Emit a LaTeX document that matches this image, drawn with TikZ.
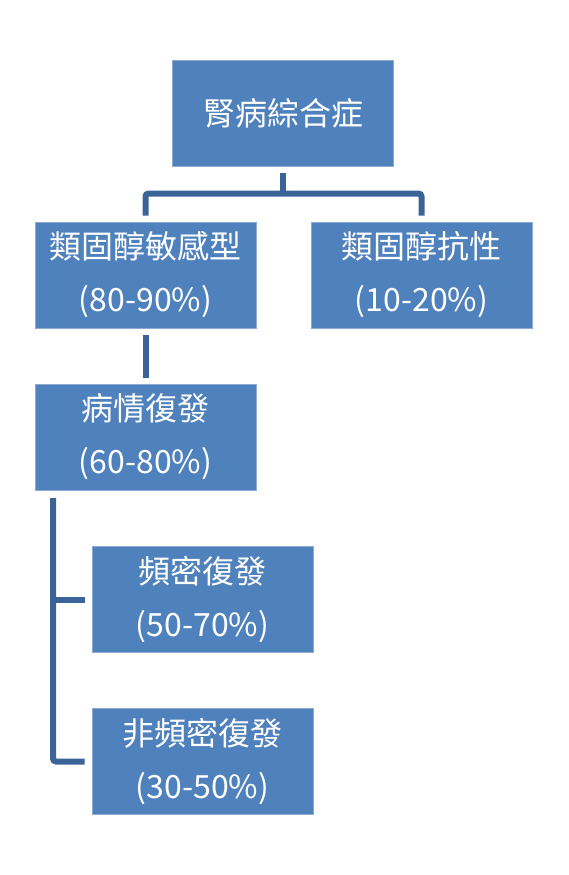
\documentclass[tikz,border=0pt]{standalone}
\usepackage{fontspec}
\newfontfamily\cjk{Noto Sans CJK TC}
\definecolor{boxfill}{RGB}{79,129,189}
\definecolor{boxedge}{RGB}{140,170,212}
\definecolor{linkblue}{RGB}{60,99,152}
\tikzset{
  box/.style={rectangle, fill=boxfill, draw=boxedge, line width=0.8pt,
    minimum width=221pt, minimum height=106pt, inner sep=0pt,
    text=white, align=center, font=\cjk\fontsize{32}{53}\selectfont},
  link/.style={draw=linkblue, line width=6pt}
}
\begin{document}
\begin{tikzpicture}[x=1pt,y=-1pt]
\useasboundingbox (0,0) rectangle (568,875);
%%% the boxes
\node[box] (nephro) at (283,113) {腎病綜合症};
\node[box] (sens) at (145.5,275) {類固醇敏感型\\(80-90\%)};
\node[box] (resist) at (421.5,275) {類固醇抗性\\(10-20\%)};
\node[box] (relapse) at (145.5,437) {病情復發\\(60-80\%)};
\node[box] (freq) at (202.5,599.5) {頻密復發\\(50-70\%)};
\node[box] (infreq) at (202.5,761.5) {非頻密復發\\(30-50\%)};
% branch points
\coordinate (split) at (283,193.5);
\coordinate (spine) at (53,498);
%Connectors from the top
\draw[link, shorten <=7pt] (nephro.south) -- (split);
\draw[link, rounded corners=3pt, shorten <=6pt, shorten >=6pt]
  (sens.north) |- (split) -| (resist.north);
\draw[link, shorten <=7pt, shorten >=6pt] (sens.south) -- (relapse.north);
%Connectors to the relapse types
\draw[link, rounded corners=3pt] (spine) |- ([xshift=-7pt]infreq.west);
\draw[link] (spine |- freq) -- ([xshift=-7pt]freq.west);
\end{tikzpicture}
\end{document}
